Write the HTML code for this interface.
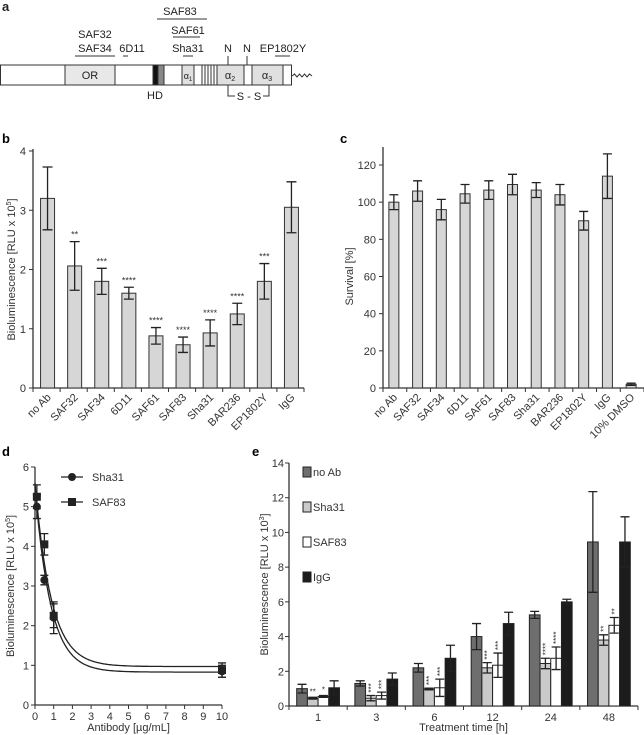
<!DOCTYPE html>
<html><head><meta charset="utf-8"><style>
html,body{margin:0;padding:0;background:#fff}
svg{display:block;font-family:"Liberation Sans",sans-serif}
</style></head><body>
<svg id="fig" width="644" height="735" viewBox="0 0 644 735" xmlns="http://www.w3.org/2000/svg">
<g font-size="11" fill="#222" stroke="none">
  <text x="2" y="11" font-weight="bold" font-size="13">a</text>
  <g stroke="#333" stroke-width="1">
    <rect x="0.5" y="65" width="291" height="20" fill="#fff"/>
    <rect x="65" y="65" width="50" height="20" fill="#e8e8e8"/>
    <rect x="153" y="65" width="5" height="20" fill="#111"/>
    <rect x="158" y="65" width="6" height="20" fill="#888"/>
    <rect x="182" y="65" width="12" height="20" fill="#e0e0e0"/>
    <rect x="202" y="65" width="15" height="20" fill="#fff"/>
    <line x1="205" y1="65" x2="205" y2="85"/><line x1="208" y1="65" x2="208" y2="85"/><line x1="211" y1="65" x2="211" y2="85"/><line x1="214" y1="65" x2="214" y2="85"/>
    <rect x="217" y="65" width="27" height="20" fill="#e0e0e0"/>
    <rect x="252" y="65" width="31" height="20" fill="#e0e0e0"/>
    <path d="M292 76 l2.5 -2 l2.5 3 l2.5 -3 l2.5 3 l2.5 -3 l2.5 3 l2.5 -3 l2.5 2" fill="none"/>
  </g>
  <text x="90" y="79" text-anchor="middle">OR</text>
  <text x="188" y="79" text-anchor="middle" font-size="9">α<tspan font-size="6" dy="2">1</tspan></text>
  <text x="230" y="79" text-anchor="middle">α<tspan font-size="7" dy="2">2</tspan></text>
  <text x="267" y="79" text-anchor="middle">α<tspan font-size="7" dy="2">3</tspan></text>
  <text x="155" y="99" text-anchor="middle">HD</text>
  <g stroke="#333" stroke-width="1" fill="none">
    <line x1="157" y1="19" x2="207" y2="19"/>
    <line x1="173" y1="37" x2="200" y2="37"/>
    <line x1="183" y1="56" x2="193" y2="56"/>
    <line x1="75" y1="56" x2="115" y2="56"/>
    <line x1="123" y1="56" x2="128" y2="56"/>
    <line x1="275" y1="56" x2="290" y2="56"/>
    <line x1="228" y1="56" x2="228" y2="65"/>
    <line x1="247" y1="56" x2="247" y2="65"/>
    <path d="M228 85 V96 H235 M263 96 H269 V85"/>
  </g>
  <text x="180" y="15" text-anchor="middle">SAF83</text>
  <text x="188" y="34" text-anchor="middle">SAF61</text>
  <text x="188" y="52" text-anchor="middle">Sha31</text>
  <text x="95" y="38" text-anchor="middle">SAF32</text>
  <text x="95" y="52" text-anchor="middle">SAF34</text>
  <text x="132" y="52" text-anchor="middle">6D11</text>
  <text x="228" y="52" text-anchor="middle">N</text>
  <text x="247" y="52" text-anchor="middle">N</text>
  <text x="283" y="52" text-anchor="middle">EP1802Y</text>
  <text x="249" y="100" text-anchor="middle">S - S</text>
</g>
<text x="2" y="143" font-weight="bold" font-size="13">b</text>
<text x="340" y="143" font-weight="bold" font-size="13">c</text>
<text x="2" y="456" font-weight="bold" font-size="13">d</text>
<text x="252" y="456" font-weight="bold" font-size="13">e</text>
</svg>
<script>
const bCats = ['no Ab','SAF32','SAF34','6D11','SAF61','SAF83','Sha31','BAR236','EP1802Y','IgG'];
const bVals = [3.2,2.06,1.8,1.6,0.88,0.73,0.93,1.25,1.8,3.05];
const bErr = [0.53,0.41,0.22,0.1,0.14,0.13,0.22,0.18,0.3,0.43];
const bStars = ['','**','***','****','****','****','****','****','***',''];
const bTicks = [0,1,2,3,4];

const cCats = ['no Ab','SAF32','SAF34','6D11','SAF61','SAF83','Sha31','BAR236','EP1802Y','IgG','10% DMSO'];
const cVals = [100,106,96,104.5,106.5,109.5,106.5,104,90,114,2];
const cErr = [4,5.5,5.5,5,5,5.5,4,5.5,5,12,0.6];
const cTicks = [0,20,40,60,80,100,120];

const dX = [0.1,0.5,1,10];
const dSha = [5.0,3.15,2.2,0.85];
const dShaErr = [0.3,0.12,0.4,0.15];
const dSaf = [5.25,4.05,2.25,0.88];
const dSafErr = [0.3,0.27,0.3,0.18];
const dShaFit = [5.5,0.83,1.2];
const dSafFit = [5.6,0.97,1.15];
const dXTicks = [0,1,2,3,4,5,6,7,8,9,10];
const dYTicks = [0,1,2,3,4,5,6];

const eCats = ['1','3','6','12','24','48'];
const eSeries = ['no Ab','Sha31','SAF83','IgG'];
const eNoAb = [1.0,1.3,2.2,4.0,5.25,9.45];
const eNoAbErr = [0.25,0.15,0.25,0.75,0.2,2.9];
const eSha = [0.45,0.45,0.98,2.2,2.45,3.8];
const eShaErr = [0.05,0.15,0.05,0.3,0.3,0.3];
const eSaf = [0.55,0.6,1.05,2.35,2.75,4.65];
const eSafErr = [0.05,0.2,0.5,0.7,0.65,0.45];
const eIgG = [1.05,1.55,2.75,4.75,6.0,9.45];
const eIgGErr = [0.4,0.35,0.75,0.65,0.15,1.45];
const eShaStars = ['**','***','***','***','****','**'];
const eSafStars = ['*','***','***','***','****','**'];
const eTicks = [0,2,4,6,8,10,12,14];

const NS='http://www.w3.org/2000/svg';
const svg=document.getElementById('fig');
function mk(tag,attrs,parent){const e=document.createElementNS(NS,tag);for(const k in attrs)e.setAttribute(k,attrs[k]);(parent||svg).appendChild(e);return e;}
function grp(name){const g=mk('g',{});


return g;}
function errBar(g,x,y1,y2,w){const p=mk('path',{d:`M${x-w} ${y1}H${x+w}M${x} ${y1}V${y2}M${x-w} ${y2}H${x+w}`,stroke:'#222','stroke-width':1.3,fill:'none'},g);

}
function txt(g,x,y,s,opts){const t=mk('text',Object.assign({x:x,y:y,'font-size':11,fill:'#333'},opts||{}),g);t.textContent=s;return t;}

(function(){
 const g=grp('panel-b-chart');
 const x0=33,x1=304,y0=388,yTop=151,ymax=4;
 const ys=v=>y0-(v/ymax)*(y0-yTop);
 const step=(x1-x0)/bCats.length;
 const xs=i=>x0+step*(i+0.5)+1;
 mk('line',{x1:x0,y1:y0,x2:x0,y2:yTop-2,stroke:'#333','stroke-width':1.3},g);
 mk('line',{x1:x0,y1:y0,x2:x1,y2:y0,stroke:'#333','stroke-width':1.3},g);
 bTicks.forEach(t=>{const y=ys(t);mk('line',{x1:x0-4,y1:y,x2:x0,y2:y,stroke:'#333'},g);
  const l=txt(g,x0-7,y+4,String(t),{'text-anchor':'end'});
  
  });
 for(let i=0;i<=bCats.length;i++){mk('line',{x1:x0+step*i,y1:y0,x2:x0+step*i,y2:y0+4,stroke:'#333'},g);}
 bCats.forEach((c,i)=>{const x=xs(i);
  const r=mk('rect',{x:x-7,y:ys(bVals[i]),width:14,height:y0-ys(bVals[i]),fill:'#d6d6d6',stroke:'#333','stroke-width':1},g);
  
  
  errBar(g,x,ys(bVals[i]+bErr[i]),ys(bVals[i]-bErr[i]),5);
  if(bStars[i]){const s=txt(g,x,ys(bVals[i]+bErr[i])-4,bStars[i],{'text-anchor':'middle','font-size':9});
   
   }
  const l=txt(g,x+4,y0+10,c,{'text-anchor':'end',transform:`rotate(-45 ${x+4} ${y0+10})`});
  
  });
 const t=txt(g,0,0,'',{'text-anchor':'middle',transform:`translate(15 ${(y0+yTop)/2}) rotate(-90)`});
 t.innerHTML='Bioluminescence [RLU x 10<tspan font-size="7" dy="-4">5</tspan><tspan dy="4">]</tspan>';
 
 
})();

(function(){
 const g=grp('panel-c-chart');
 const x0=383,x1=644,y0=388,y120=165;
 const ys=v=>y0-(v/120)*(y0-y120);
 const step=(x1-x0)/cCats.length;
 const xs=i=>x0+step*(i+0.5)-1;
 mk('line',{x1:x0,y1:y0,x2:x0,y2:147,stroke:'#333','stroke-width':1.3},g);
 mk('line',{x1:x0,y1:y0,x2:x1,y2:y0,stroke:'#333','stroke-width':1.3},g);
 cTicks.forEach(t=>{const y=ys(t);mk('line',{x1:x0-4,y1:y,x2:x0,y2:y,stroke:'#333'},g);
  const l=txt(g,x0-7,y+4,String(t),{'text-anchor':'end'});
  
  });
 for(let i=0;i<=cCats.length;i++){mk('line',{x1:x0+step*i,y1:y0,x2:x0+step*i,y2:y0+4,stroke:'#333'},g);}
 cCats.forEach((c,i)=>{const x=xs(i);
  const r=mk('rect',{x:x-5,y:ys(cVals[i]),width:10,height:y0-ys(cVals[i]),fill:'#d6d6d6',stroke:'#333','stroke-width':1},g);
  
  
  errBar(g,x,ys(cVals[i]+cErr[i]),ys(cVals[i]-cErr[i]),4.5);
  const l=txt(g,x+4,y0+10,c,{'text-anchor':'end',transform:`rotate(-45 ${x+4} ${y0+10})`});
  
  });
 const t=txt(g,0,0,'Survival [%]',{'text-anchor':'middle',transform:`translate(353 ${(y0+165)/2}) rotate(-90)`});
 
 
})();

(function(){
 const g=grp('panel-d-chart');
 const x0=35,x10=222,y0=705,y6=467;
 const xs=v=>x0+v/10*(x10-x0);
 const ys=v=>y0-v/6*(y0-y6);
 mk('line',{x1:x0,y1:y0,x2:x0,y2:y6,stroke:'#333','stroke-width':1.3},g);
 mk('line',{x1:x0,y1:y0,x2:x10,y2:y0,stroke:'#333','stroke-width':1.3},g);
 dYTicks.forEach(t=>{const y=ys(t);mk('line',{x1:x0-4,y1:y,x2:x0,y2:y,stroke:'#333'},g);
  const l=txt(g,x0-6,y+4,String(t),{'text-anchor':'end'});
  
  });
 dXTicks.forEach(t=>{const x=xs(t);mk('line',{x1:x,y1:y0,x2:x,y2:y0+4,stroke:'#333'},g);
  const l=txt(g,x,y0+15,String(t),{'text-anchor':'middle'});
  
  });
 function fit(p,name){let d='';for(let k=0;k<=200;k++){const v=k/20;const y=p[1]+(p[0]-p[1])*Math.exp(-p[2]*v);d+=(k?'L':'M')+xs(v).toFixed(1)+' '+ys(y).toFixed(1);}
  const c=mk('path',{d:d,fill:'none',stroke:'#222','stroke-width':1.3},g);
  
  }
 fit(dShaFit,'sha31-fit-curve');fit(dSafFit,'saf83-fit-curve');
 dX.forEach((v,i)=>{errBar(g,xs(v),ys(dSha[i]+dShaErr[i]),ys(dSha[i]-dShaErr[i]),4);
  const c=mk('circle',{cx:xs(v),cy:ys(dSha[i]),r:4,fill:'#222'},g);
  
  });
 dX.forEach((v,i)=>{errBar(g,xs(v),ys(dSaf[i]+dSafErr[i]),ys(dSaf[i]-dSafErr[i]),4);
  const s=mk('rect',{x:xs(v)-4,y:ys(dSaf[i])-4,width:8,height:8,fill:'#222'},g);
  
  });
 const l1=grp('legend-entry-sha31');g.appendChild(l1);
 mk('line',{x1:61,y1:477,x2:83,y2:477,stroke:'#222','stroke-width':1.3},l1);mk('circle',{cx:72,cy:477,r:4,fill:'#222'},l1);txt(l1,92,481,'Sha31');
 const l2=grp('legend-entry-saf83');g.appendChild(l2);
 mk('line',{x1:61,y1:502,x2:83,y2:502,stroke:'#222','stroke-width':1.3},l2);mk('rect',{x:68,y:498,width:8,height:8,fill:'#222'},l2);txt(l2,92,506,'SAF83');
 const t=txt(g,0,0,'',{'text-anchor':'middle',transform:`translate(14 ${(y0+y6)/2}) rotate(-90)`});
 t.innerHTML='Bioluminescence [RLU x 10<tspan font-size="7" dy="-4">5</tspan><tspan dy="4">]</tspan>';
 
 
 const xt=txt(g,(x0+x10)/2,731,'Antibody [µg/mL]',{'text-anchor':'middle'});
 
 
})();

(function(){
 const g=grp('panel-e-chart');
 const x0=289,x1=638,y0=706,y14=463;
 const ys=v=>y0-v/14*(y0-y14);
 const gw=(x1-x0)/eCats.length, bw=10.7;
 const vals=[eNoAb,eSha,eSaf,eIgG], errs=[eNoAbErr,eShaErr,eSafErr,eIgGErr];
 const fills=['#6e6e6e','#cacaca','#ffffff','#1c1c1c'];
 mk('line',{x1:x0,y1:y0,x2:x0,y2:y14,stroke:'#333','stroke-width':1.3},g);
 mk('line',{x1:x0,y1:y0,x2:x1,y2:y0,stroke:'#333','stroke-width':1.3},g);
 eTicks.forEach(t=>{const y=ys(t);mk('line',{x1:x0-4,y1:y,x2:x0,y2:y,stroke:'#333'},g);
  const l=txt(g,x0-5,y+4,String(t),{'text-anchor':'end'});
  
  });
 for(let i=0;i<=eCats.length;i++){mk('line',{x1:x0+gw*i,y1:y0,x2:x0+gw*i,y2:y0+4,stroke:'#333'},g);}
 eCats.forEach((c,i)=>{const gx=x0+gw*i+(gw-4*bw)/2;
  vals.forEach((arr,s)=>{const x=gx+bw*s;
   const r=mk('rect',{x:x,y:ys(arr[i]),width:bw,height:y0-ys(arr[i]),fill:fills[s],stroke:'#222','stroke-width':1},g);
   
   
   errBar(g,x+bw/2,ys(arr[i]+errs[s][i]),ys(arr[i]-errs[s][i]),4.5);
  });
  [[eShaStars,1,eSha,eShaErr],[eSafStars,2,eSaf,eSafErr]].forEach(([st,s,arr,er])=>{
   const cx=gx+bw*s+bw/2, yt=ys(arr[i]+er[i])-3;
   const t=i===0?txt(g,cx,yt,st[i],{'text-anchor':'middle','font-size':8}):txt(g,cx+3,yt,st[i],{'text-anchor':'start','font-size':8,transform:`rotate(-90 ${cx+3} ${yt})`});
   
   });
  const l=txt(g,x0+gw*(i+0.5),y0+15,c,{'text-anchor':'middle'});
  
  });
 eSeries.forEach((n,s)=>{const le=grp('legend-entry-'+n.replace(/\s/g,'-').toLowerCase());g.appendChild(le);
  const y=467+35*s;
  mk('rect',{x:303,y:y,width:8,height:10,fill:fills[s],stroke:'#222'},le);
  txt(le,313,y+9,n);});
 const t=txt(g,0,0,'',{'text-anchor':'middle',transform:`translate(268 ${(y0+y14)/2}) rotate(-90)`});
 t.innerHTML='Bioluminescence [RLU x 10<tspan font-size="7" dy="-4">3</tspan><tspan dy="4">]</tspan>';
 
 
 const xt=txt(g,(x0+x1)/2,731,'Treatment time [h]',{'text-anchor':'middle'});
 
 
})();
</script>
</body></html>
